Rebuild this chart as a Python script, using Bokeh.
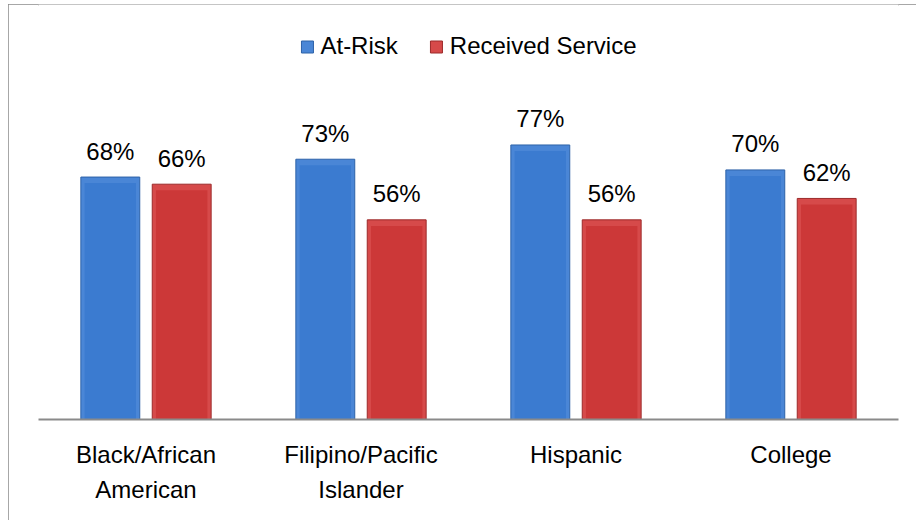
from bokeh.plotting import figure
from bokeh.models import FactorRange, Range1d, ColumnDataSource
from bokeh.transform import dodge
from bokeh.core.properties import value
from bokeh.embed import file_html
from bokeh.resources import INLINE

categories = ["Black/African\nAmerican", "Filipino/Pacific\nIslander", "Hispanic", "College"]
at_risk = [68, 73, 77, 70]
received = [66, 56, 56, 62]

FONT = "Liberation Sans"
BEVEL = 1.7  # bevel depth in data units (style only)

src = ColumnDataSource(dict(
    cat=categories,
    at=at_risk,
    rec=received,
    at_in=[v - BEVEL for v in at_risk],
    rec_in=[v - BEVEL for v in received],
    at_lbl=[f"{v}%" for v in at_risk],
    rec_lbl=[f"{v}%" for v in received],
))

p = figure(
    x_range=FactorRange(*categories, range_padding=0),
    y_range=Range1d(0, 116.4),
    width=908, height=516,
    output_backend="svg", toolbar_location=None,
    min_border_left=30, min_border_right=18,
    min_border_top=0, min_border_bottom=101,
)
p.styles = {"margin-left": "8px", "margin-top": "4px",
            "box-shadow": "inset 2px 2px 0 #8a8a8a"}

W = 0.274
OFF = 0.166
INSET = 0.035

p.vbar(x=dodge("cat", -OFF, range=p.x_range), top="at", width=W, source=src,
       fill_color="#4a86d6", line_color="#2d62a8", line_width=1, legend_label="At-Risk")
p.vbar(x=dodge("cat", -OFF, range=p.x_range), top="at_in", width=W - INSET, source=src,
       fill_color="#3b7bd0", line_color=None)
p.vbar(x=dodge("cat", OFF, range=p.x_range), top="rec", width=W, source=src,
       fill_color="#d64a4a", line_color="#9c2a2a", line_width=1, legend_label="Received Service")
p.vbar(x=dodge("cat", OFF, range=p.x_range), top="rec_in", width=W - INSET, source=src,
       fill_color="#cc3838", line_color=None)

p.text(x=dodge("cat", -OFF, range=p.x_range), y="at", text="at_lbl", source=src,
       text_align="center", text_baseline="alphabetic", y_offset=-26,
       text_font=value(FONT), text_font_size="24px", text_color="#000000")
p.text(x=dodge("cat", OFF, range=p.x_range), y="rec", text="rec_lbl", source=src,
       text_align="center", text_baseline="alphabetic", y_offset=-26,
       text_font=value(FONT), text_font_size="24px", text_color="#000000")

p.yaxis.visible = False
p.xgrid.grid_line_color = None
p.ygrid.grid_line_color = None
p.outline_line_color = None

ax = p.xaxis[0]
ax.axis_line_color = "#8a8a8a"
ax.axis_line_width = 2
ax.major_tick_line_color = None
ax.minor_tick_line_color = None
ax.major_label_text_font = FONT
ax.major_label_text_font_size = "24px"
ax.major_label_text_color = "#000000"
ax.major_label_text_line_height = 1.32
ax.major_label_standoff = 15

lg = p.legend[0]
lg.location = "top_center"
lg.orientation = "horizontal"
lg.label_text_font = FONT
lg.label_text_font_size = "24px"
lg.label_text_color = "#000000"
lg.glyph_width = 15
lg.glyph_height = 15
lg.spacing = 31
lg.label_standoff = 6
lg.border_line_color = None
lg.background_fill_alpha = 0
lg.margin = 28
lg.padding = 10

open("out.html", "w").write(file_html(p, INLINE))
